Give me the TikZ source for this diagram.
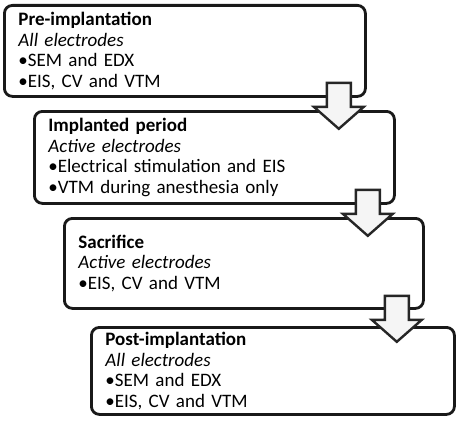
\documentclass[tikz,border=0pt]{standalone}
\usepackage{fontspec}
\setmainfont{Carlito}
\usetikzlibrary{calc,positioning}
\tikzset{
    stage/.style={rectangle, draw=black!90, line width=2.8pt, rounded corners=8pt, anchor=north west, align=left, inner xsep=14pt, inner ysep=0pt, font=\fontsize{19}{20.7}\selectfont},
    downarrow/.style={draw=black!85, line width=2.4pt, fill=gray!8, line join=miter},
    pics/blockarrow/.style={code={
        \draw[downarrow] (-12,0) -- (12,0) -- (12,24) -- (25,24) -- (0,46) -- (-25,24) -- (-12,24) -- cycle;
    }},
}

\begin{document}
\begin{tikzpicture}[x=1pt, y=-1pt]
\useasboundingbox (0,0) rectangle (457,420);

% Stages
\node[stage, text width=333pt, minimum height=91pt] (pre) at (3,4)
  {\textbf{Pre-implantation}\\ \textit{All electrodes}\\ •SEM and EDX\\ •EIS, CV and VTM};
\node[stage, text width=332pt, minimum height=92pt] (implanted) at (33,110)
  {\textbf{Implanted period}\\ \textit{Active electrodes}\\ •Electrical stimulation and EIS\\ •VTM during anesthesia only};
\node[stage, text width=331pt, minimum height=90pt] (sacrifice) at (63,217)
  {\textbf{Sacrifice}\\ \textit{Active electrodes}\\ •EIS, CV and VTM};
\node[stage, text width=335pt, minimum height=87pt] (post) at (90,326)
  {\textbf{Post-implantation}\\ \textit{All electrodes}\\ •SEM and EDX\\ •EIS, CV and VTM};

% Block arrows between stages
\pic at ($(pre.south east)+(-28,-15)$) {blockarrow};
\pic at ($(implanted.south east)+(-28,-15)$) {blockarrow};
\pic at ($(sacrifice.south east)+(-28,-14)$) {blockarrow};

\end{tikzpicture}
\end{document}
